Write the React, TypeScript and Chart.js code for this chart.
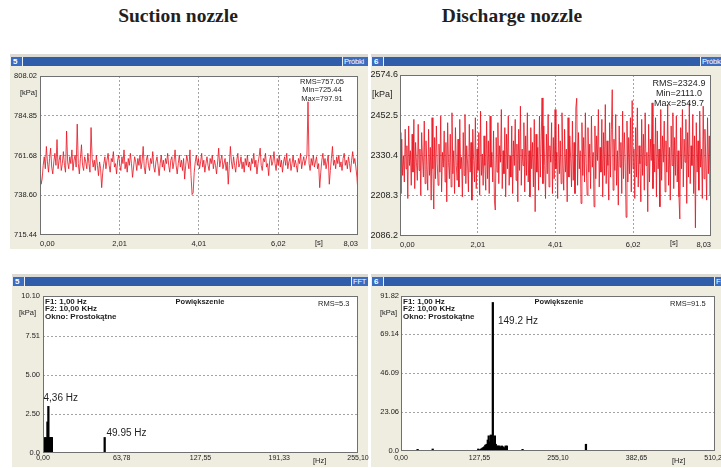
import React, { useEffect, useRef } from 'react';
import { Chart, registerables } from 'chart.js';

Chart.register(...registerables);

// ---------------- DATA ----------------
const recordSeconds = 8.03;
const timeTicks = [0, 2.01, 4.01, 6.02, 8.03];
const timeTickLabels = ['0,00', '2,01', '4,01', '6,02', '8,03'];

const suctionYTicks = [715.44, 738.6, 761.68, 784.85, 808.02];
const suctionYLabels = ['715.44', '738.60', '761.68', '784.85', '808.02'];
const dischargeYTicks = [2086.2, 2208.3, 2330.4, 2452.5, 2574.6];
const dischargeYLabels = ['2086.2', '2208.3', '2330.4', '2452.5', '2574.6'];

const suctionStats = ['RMS=757.05', 'Min=725.44', 'Max=797.91'];
const dischargeStats = ['RMS=2324.9', 'Min=2111.0', 'Max=2549.7'];

const suctionPressure = [
  757, 745, 748, 756, 761, 754, 767, 758, 752, 760, 766, 755, 751, 758, 763, 756, 771, 754, 759, 762,
  753, 757, 764, 756, 752, 776, 758, 754, 761, 757, 765, 753, 759, 762, 755, 780, 757, 751, 760, 768,
  756, 753, 761, 758, 754, 763, 757, 752, 778, 760, 755, 759, 753, 762, 756, 750, 758, 754, 743, 752,
  757, 761, 754, 759, 763, 756, 752, 760, 758, 764, 755, 757, 751, 759, 762, 756, 753, 761, 757, 765,
  754, 758, 752, 760, 756, 763, 757, 749, 755, 761, 758, 753, 760, 756, 762, 754, 758, 767, 755, 751,
  759, 762, 756, 753, 760, 757, 764, 755, 752, 758, 761, 756, 750, 757, 762, 755, 759, 753, 760, 757,
  763, 756, 752, 759, 761, 754, 758, 765, 756, 751, 757, 762, 755, 759, 753, 760, 748, 756, 762, 758,
  754, 765, 750, 739, 740, 752, 758, 762, 756, 760, 754, 758, 763, 755, 759, 752, 757, 761, 756, 753,
  760, 757, 762, 754, 759, 756, 751, 758, 766, 755, 759, 762, 754, 757, 760, 753, 758, 745, 756, 767,
  758, 754, 761, 756, 752, 759, 763, 755, 757, 761, 754, 758, 752, 760, 756, 762, 755, 758, 753, 760,
  757, 763, 755, 759, 751, 757, 761, 766, 756, 753, 760, 758, 763, 755, 757, 750, 759, 762, 756, 758,
  764, 757, 753, 760, 756, 762, 755, 759, 752, 758, 761, 756, 763, 754, 758, 760, 753, 757, 762, 755,
  759, 756, 752, 760, 757, 763, 754, 758, 761, 756, 759, 762, 793, 757, 753, 760, 756, 762, 755, 758,
  761, 754, 757, 743, 752, 759, 763, 756, 760, 754, 758, 762, 745, 753, 760, 767, 756, 759, 754, 761,
  757, 762, 755, 758, 753, 760, 763, 756, 759, 754, 761, 757, 752, 759, 764, 757, 760, 755, 749, 740,
];

const dischargePressure = [
  2400, 2215, 2380, 2270, 2330, 2250, 2410, 2290, 2360, 2200, 2420, 2300, 2345, 2240, 2395, 2280, 2440, 2230, 2370, 2310,
  2255, 2425, 2285, 2350, 2210, 2400, 2320, 2265, 2435, 2245, 2375, 2300, 2225, 2410, 2270, 2355, 2195, 2445, 2290, 2168,
  2385, 2260, 2420, 2305, 2240, 2365, 2280, 2450, 2220, 2340, 2295, 2405, 2250, 2370, 2190, 2430, 2310, 2260, 2395, 2235,
  2460, 2275, 2345, 2215, 2415, 2300, 2255, 2380, 2235, 2440, 2290, 2325, 2205, 2400, 2270, 2455, 2245, 2360, 2305, 2220,
  2425, 2280, 2370, 2195, 2410, 2315, 2250, 2445, 2230, 2350, 2285, 2400, 2210, 2465, 2270, 2335, 2240, 2390, 2300, 2225,
  2435, 2260, 2375, 2215, 2450, 2295, 2340, 2250, 2405, 2195, 2165, 2385, 2280, 2430, 2245, 2360, 2310, 2470, 2230, 2345,
  2275, 2415, 2205, 2395, 2290, 2450, 2240, 2330, 2265, 2420, 2215, 2375, 2300, 2440, 2255, 2365, 2190, 2410, 2285, 2480,
  2240, 2350, 2300, 2430, 2220, 2390, 2270, 2460, 2250, 2345, 2205, 2415, 2290, 2370, 2235, 2440, 2160, 2395, 2280, 2355,
  2225, 2450, 2265, 2380, 2505, 2245, 2420, 2300, 2200, 2395, 2275, 2455, 2235, 2360, 2310, 2430, 2215, 2385, 2260, 2470,
  2290, 2340, 2200, 2425, 2275, 2375, 2245, 2460, 2305, 2225, 2410, 2280, 2350, 2190, 2445, 2265, 2390, 2320, 2235, 2435,
  2255, 2370, 2215, 2475, 2504, 2240, 2400, 2290, 2345, 2185, 2430, 2270, 2385, 2250, 2460, 2305, 2210, 2415, 2280, 2365,
  2230, 2450, 2295, 2340, 2175, 2420, 2260, 2390, 2315, 2470, 2235, 2355, 2280, 2440, 2205, 2400, 2270, 2485, 2245, 2375,
  2300, 2195, 2430, 2265, 2410, 2530, 2225, 2380, 2285, 2455, 2240, 2345, 2180, 2420, 2295, 2370, 2215, 2465, 2260, 2400,
  2310, 2143, 2435, 2250, 2385, 2275, 2445, 2220, 2497, 2290, 2350, 2200, 2415, 2265, 2475, 2235, 2360, 2305, 2190, 2440,
  2270, 2395, 2225, 2460, 2300, 2340, 2160, 2425, 2250, 2380, 2315, 2490, 2230, 2365, 2280, 2445, 2205, 2405, 2290, 2350,
  2175, 2470, 2255, 2390, 2310, 2435, 2220, 2375, 2280, 2485, 2240, 2355, 2195, 2420, 2300, 2460, 2230, 2385, 2270, 2450,
  2250, 2345, 2205, 2138, 2415, 2290, 2470, 2235, 2380, 2310, 2440, 2185, 2400, 2265, 2490, 2245, 2360, 2300, 2455, 2215,
  2390, 2111, 2430, 2280, 2375, 2225, 2465, 2295, 2350, 2200, 2480, 2260, 2410, 2320, 2195, 2445, 2275, 2390, 2210, 2497,
];

const fftSuctionYTicks = [0, 2.5, 5.0, 7.51, 10.1];
const fftSuctionYLabels = ['0.0', '2.50', '5.00', '7.51', '10.10'];
const fftSuctionXTicks = [0, 63.78, 127.55, 191.33, 255.1];
const fftSuctionXLabels = ['0,00', '63,78', '127,55', '191,33', '255,10'];
const fftSuctionFreq = [1.6, 3.0, 3.6, 4.36, 5.0, 5.8, 6.6, 7.2, 49.95];
const fftSuctionAmp = [1.0, 1.0, 2.0, 3.0, 1.0, 1.0, 1.0, 1.0, 1.0];

const fftDischargeYTicks = [0, 23.06, 46.09, 69.14, 91.82];
const fftDischargeYLabels = ['0.0', '23.06', '46.09', '69.14', '91.82'];
const fftDischargeXTicks = [0, 127.55, 255.1, 382.65, 510.2];
const fftDischargeXLabels = ['0,00', '127,55', '255,10', '382,65', '510,20'];
const fftDischargeFreq = [
  27, 51.5, 125.5, 129, 131, 133, 135, 137, 139, 141, 142.5, 144, 146, 147.5, 149.2,
  151, 152.5, 154, 156, 158, 160, 162, 164, 166, 168, 170, 172, 197.5, 300.5,
];
const fftDischargeAmp = [
  1.0, 1.2, 1.2, 1.0, 1.5, 2.0, 2.5, 3.5, 4.0, 6.5, 9.0, 5.5, 9.5, 4.0, 88.0,
  4.5, 9.0, 4.0, 3.0, 3.0, 3.0, 2.5, 3.0, 2.5, 2.0, 3.0, 3.0, 1.0, 4.0,
];

const fftInfoLines = ['F1: 1,00 Hz', 'F2: 10,00 KHz', 'Okno: Prostokątne'];

// ---------------- STYLE ----------------
const SANS = '"Liberation Sans", Arial, sans-serif';
const BLUE = '#2F5DAA';
const BEIGE = '#EFECE0';
const TXT = '#1E1E1E';

type Plot = { l: number; t: number; r: number; b: number };
type Pad = { l: number; r: number; t: number; b: number };
const PAD: Pad = { l: 40, r: 22, t: 12, b: 22 };

const framePlugin = {
  id: 'plotFrame',
  beforeDraw(chart: any) {
    const a = chart.chartArea;
    const ctx = chart.ctx;
    ctx.save();
    ctx.fillStyle = '#ffffff';
    ctx.fillRect(a.left, a.top, a.right - a.left, a.bottom - a.top);
    ctx.restore();
  },
  afterDraw(chart: any) {
    const a = chart.chartArea;
    const ctx = chart.ctx;
    ctx.save();
    ctx.strokeStyle = '#707070';
    ctx.lineWidth = 1;
    ctx.strokeRect(a.left + 0.5, a.top + 0.5, a.right - a.left - 1, a.bottom - a.top - 1);
    ctx.restore();
  },
};

function gridColor(n: number) {
  return (ctx: any) => (ctx.index === 0 || ctx.index === n - 1 ? 'rgba(0,0,0,0)' : '#A4A4A4');
}

function xScale(min: number, max: number, ticks: number[], labels: string[], size: number, padding: number, showGrid: boolean, align: string) {
  return {
    type: 'linear',
    min,
    max,
    offset: false,
    afterBuildTicks: (s: any) => {
      s.ticks = ticks.map((v) => ({ value: v }));
    },
    afterFit: (s: any) => {
      s.height = PAD.b;
    },
    ticks: {
      autoSkip: false,
      maxRotation: 0,
      minRotation: 0,
      padding,
      align,
      color: '#222',
      font: { family: SANS, size },
      callback: (_v: any, i: number) => labels[i],
    },
    grid: { display: showGrid, offset: false, drawTicks: false, color: gridColor(ticks.length), lineWidth: 1 },
    border: { display: false, dash: [2, 2] },
  };
}

function yScale(min: number, max: number, ticks: number[], labels: string[], size: number, padding: number) {
  return {
    type: 'linear',
    min,
    max,
    afterBuildTicks: (s: any) => {
      s.ticks = ticks.map((v) => ({ value: v }));
    },
    afterFit: (s: any) => {
      s.width = PAD.l;
    },
    ticks: {
      autoSkip: false,
      padding,
      color: '#222',
      font: { family: SANS, size },
      callback: (_v: any, i: number) => labels[i],
    },
    grid: { drawTicks: false, color: gridColor(ticks.length), lineWidth: 1 },
    border: { display: false, dash: [2, 2] },
  };
}

const baseOptions = {
  animation: false,
  responsive: false,
  maintainAspectRatio: false,
  devicePixelRatio: 1,
  events: [],
  layout: { padding: { left: 0, right: PAD.r, top: PAD.t, bottom: 0 } },
  plugins: { legend: { display: false }, tooltip: { enabled: false } },
};

function timeConfig(values: number[], yTicks: number[], yLabels: string[], ySize: number, yPadding: number, xPadding: number) {
  const dt = recordSeconds / (values.length - 1);
  return {
    type: 'line',
    data: {
      datasets: [
        {
          data: values.map((v, i) => ({ x: i * dt, y: v })),
          borderColor: 'rgba(232,18,30,0.8)',
          borderWidth: 1,
          pointRadius: 0,
          tension: 0,
          fill: false,
        },
      ],
    },
    options: {
      ...baseOptions,
      scales: {
        x: xScale(0, recordSeconds, timeTicks, timeTickLabels, 7.5, xPadding, true, 'inner'),
        y: yScale(yTicks[0], yTicks[yTicks.length - 1], yTicks, yLabels, ySize, yPadding),
      },
    },
    plugins: [framePlugin],
  };
}

function fftConfig(freq: number[], amp: number[], xTicks: number[], xLabels: string[], yTicks: number[], yLabels: string[], xPadding: number, yPadding: number) {
  return {
    type: 'bar',
    data: {
      datasets: [
        {
          data: freq.map((f, i) => ({ x: f, y: amp[i] })),
          backgroundColor: '#000000',
          borderWidth: 0,
          barThickness: 1.6,
          grouped: false,
        },
      ],
    },
    options: {
      ...baseOptions,
      scales: {
        x: xScale(0, xTicks[xTicks.length - 1], xTicks, xLabels, 7, xPadding, false, 'center'),
        y: yScale(0, yTicks[yTicks.length - 1], yTicks, yLabels, 7.5, yPadding),
      },
    },
    plugins: [framePlugin],
  };
}

// ---------------- COMPONENTS ----------------
function ChartBox({ plot, config }: { plot: Plot; config: () => any }) {
  const ref = useRef<HTMLCanvasElement>(null);
  const w = plot.r - plot.l + PAD.l + PAD.r;
  const h = plot.b - plot.t + PAD.t + PAD.b;
  useEffect(() => {
    const chart = new Chart(ref.current as HTMLCanvasElement, config());
    return () => chart.destroy();
  }, []);
  return (
    <canvas
      ref={ref}
      width={w}
      height={h}
      style={{ position: 'absolute', left: plot.l - PAD.l, top: plot.t - PAD.t, width: w, height: h }}
    />
  );
}

function Txt({ x, y, size, bold, center, children }: { x: number; y: number; size: number; bold?: boolean; center?: boolean; children: any }) {
  return (
    <div
      style={{
        position: 'absolute',
        left: x,
        top: y - size * 0.55,
        fontFamily: SANS,
        fontSize: size,
        fontWeight: bold ? 700 : 400,
        lineHeight: 1,
        color: TXT,
        whiteSpace: 'nowrap',
        transform: center ? 'translateX(-50%)' : undefined,
      }}
    >
      {children}
    </div>
  );
}

function BarBox({ x, y, w, h, label, tag }: { x: number; y: number; w: number; h: number; label: string; tag?: boolean }) {
  return (
    <div
      style={{
        position: 'absolute',
        left: x,
        top: y,
        width: w,
        height: h,
        boxSizing: 'border-box',
        background: '#3A6CC0',
        borderLeft: '1px solid #E8EEF8',
        borderRight: tag ? 'none' : '1px solid #E8EEF8',
        color: '#fff',
        fontFamily: SANS,
        fontWeight: tag ? 400 : 700,
        fontSize: tag ? 7.5 : 8,
        letterSpacing: tag ? -0.2 : 0,
        lineHeight: `${h}px`,
        paddingLeft: tag ? 1 : 2,
        overflow: 'hidden',
        whiteSpace: 'nowrap',
      }}
    >
      {label}
    </div>
  );
}

function Panel({ x, y, w, barY, bottom, num, tag, tagW }: { x: number; y: number; w: number; barY: number; bottom: number; num: string; tag: string; tagW: number }) {
  return (
    <>
      <div style={{ position: 'absolute', left: x, top: barY - 3, width: w, height: 3, background: '#DCDAD4' }} />
      <div style={{ position: 'absolute', left: x, top: barY, width: w, height: 9, background: BLUE }} />
      <BarBox x={x} y={barY} w={13} h={9} label={num} />
      <BarBox x={x + w - tagW} y={barY} w={tagW} h={9} label={tag} tag />
      <div style={{ position: 'absolute', left: x, top: y, width: w, height: bottom - y, background: BEIGE }} />
    </>
  );
}

const tlPlot: Plot = { l: 40, t: 76, r: 358, b: 235 };
const trPlot: Plot = { l: 400, t: 75, r: 711, b: 236 };
const blPlot: Plot = { l: 43, t: 296, r: 358, b: 453 };
const brPlot: Plot = { l: 401, t: 296, r: 715, b: 451 };

const titleStyle: any = {
  position: 'absolute',
  top: 6,
  transform: 'translateX(-50%)',
  fontFamily: '"Liberation Serif", serif',
  fontWeight: 700,
  fontSize: 19.5,
  color: '#231F20',
  whiteSpace: 'nowrap',
  lineHeight: 1,
};

export default function App() {
  return (
    <div
      style={{
        position: 'fixed',
        left: 0,
        top: 0,
        width: 721,
        height: 468,
        overflow: 'hidden',
        background: '#ffffff',
      }}
    >
      <div style={{ ...titleStyle, left: 178 }}>Suction nozzle</div>
      <div style={{ ...titleStyle, left: 512 }}>Discharge nozzle</div>

      <Panel x={10} y={66} w={358} barY={57} bottom={249} num="5" tag="Próbki" tagW={26} />
      <Panel x={371} y={66} w={350} barY={57} bottom={249} num="6" tag="Próbki" tagW={21} />
      <Panel x={12} y={286} w={356} barY={277} bottom={467} num="5" tag="FFT" tagW={17} />
      <Panel x={371} y={286} w={350} barY={277} bottom={467} num="6" tag="FFT" tagW={7} />

      <ChartBox plot={tlPlot} config={() => timeConfig(suctionPressure, suctionYTicks, suctionYLabels, 7.5, 3, 4)} />
      <ChartBox plot={trPlot} config={() => timeConfig(dischargePressure, dischargeYTicks, dischargeYLabels, 9, 2, 4)} />
      <ChartBox plot={blPlot} config={() => fftConfig(fftSuctionFreq, fftSuctionAmp, fftSuctionXTicks, fftSuctionXLabels, fftSuctionYTicks, fftSuctionYLabels, 1, 3)} />
      <ChartBox plot={brPlot} config={() => fftConfig(fftDischargeFreq, fftDischargeAmp, fftDischargeXTicks, fftDischargeXLabels, fftDischargeYTicks, fftDischargeYLabels, 3, 2)} />

      {/* top-left annotations */}
      <Txt x={20} y={93} size={7.5}>[kPa]</Txt>
      {suctionStats.map((s, i) => (
        <Txt key={s} x={322} y={82 + i * 8.5} size={7.5} center>{s}</Txt>
      ))}
      <Txt x={315} y={243} size={7.5}>[s]</Txt>

      {/* top-right annotations */}
      <Txt x={372} y={95} size={9}>[kPa]</Txt>
      {dischargeStats.map((s, i) => (
        <Txt key={s} x={679} y={83.5 + i * 10.3} size={9} center>{s}</Txt>
      ))}
      <Txt x={670} y={243} size={7.5}>[s]</Txt>

      {/* bottom-left annotations */}
      <Txt x={19} y={313} size={7.5}>[kPa]</Txt>
      {fftInfoLines.map((s, i) => (
        <Txt key={s} x={45} y={302 + i * 7.7} size={8} bold>{s}</Txt>
      ))}
      <Txt x={200} y={302} size={7.5} bold center>Powiększenie</Txt>
      <Txt x={318} y={304} size={7.5}>RMS=5.3</Txt>
      <Txt x={43.5} y={398} size={10}>4,36 Hz</Txt>
      <Txt x={106.5} y={433} size={10}>49.95 Hz</Txt>
      <Txt x={313} y={461} size={7.5}>[Hz]</Txt>

      {/* bottom-right annotations */}
      <Txt x={380} y={313} size={7.5}>[kPa]</Txt>
      {fftInfoLines.map((s, i) => (
        <Txt key={s + 'r'} x={403} y={302 + i * 7.7} size={8} bold>{s}</Txt>
      ))}
      <Txt x={559} y={302} size={7.5} bold center>Powiększenie</Txt>
      <Txt x={670} y={304} size={7.5}>RMS=91.5</Txt>
      <Txt x={498} y={321} size={10}>149.2 Hz</Txt>
      <Txt x={672} y={461} size={7.5}>[Hz]</Txt>
    </div>
  );
}
